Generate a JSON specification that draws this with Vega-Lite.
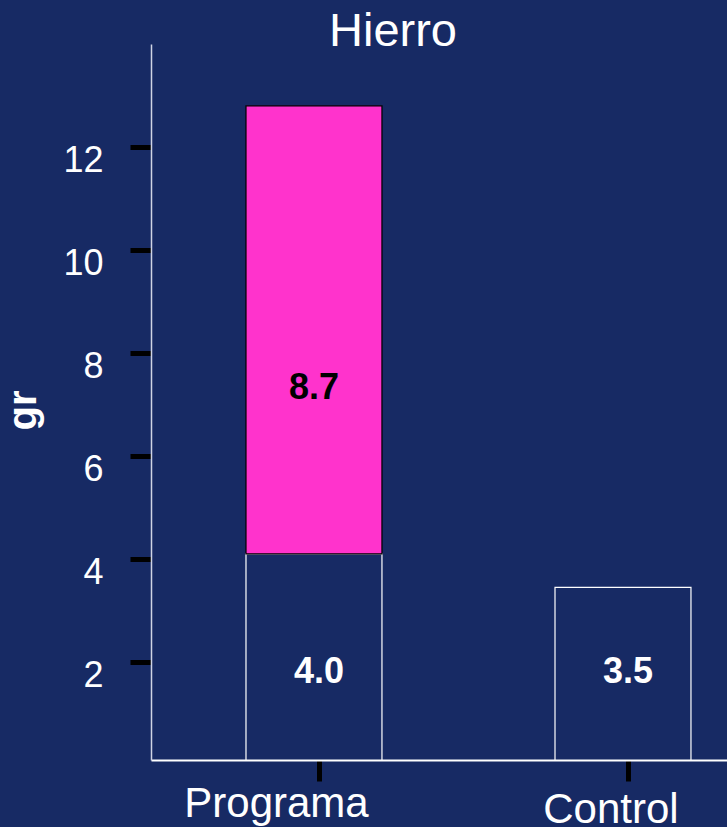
{
  "$schema": "https://vega.github.io/schema/vega-lite/v6.json",
  "autosize": "none",
  "padding": {"left": 151, "top": 44, "right": 0, "bottom": 67},
  "width": 576,
  "height": 716,
  "background": "#172a64",
  "config": {
    "font": "Liberation Sans",
    "view": {"stroke": null}
  },
  "title": {
    "text": "Hierro",
    "color": "#ffffff",
    "fontSize": 47,
    "fontWeight": "normal",
    "font": "Liberation Sans",
    "anchor": "middle",
    "frame": "group",
    "dx": -46,
    "dy": 16
  },
  "data": {
    "values": [
      {"grupo": "Programa", "parte": "Basal", "valor": 4.1, "etiqueta": "4.0"},
      {"grupo": "Programa", "parte": "Incremento", "valor": 8.7, "etiqueta": "8.7"},
      {"grupo": "Control", "parte": "Basal", "valor": 3.45, "etiqueta": "3.5"}
    ]
  },
  "transform": [
    {"stack": "valor", "groupby": ["grupo"], "sort": [{"field": "parte", "order": "ascending"}], "as": ["y0", "y1"]}
  ],
  "encoding": {
    "x": {
      "field": "grupo",
      "type": "nominal",
      "sort": ["Programa", "Control"],
      "scale": {"paddingInner": 0.56, "paddingOuter": 0.212, "align": 0.725},
      "axis": {
        "title": null,
        "labelAngle": 0,
        "labelColor": "#ffffff",
        "labelFontSize": 42,
        "labelFont": "Liberation Sans",
        "labelBaseline": "top",
        "labelLimit": 400,
        "labelOffset": {"condition": {"test": "datum.value === 'Programa'", "value": -43}, "value": -17.5},
        "labelPadding": {"condition": {"test": "datum.value === 'Programa'", "value": 2}, "value": 8},
        "domainColor": "#ffffff",
        "domainWidth": 2,
        "tickColor": "#000000",
        "tickWidth": 5,
        "tickSize": 21,
        "tickOffset": 5
      }
    },
    "y": {
      "field": "y1",
      "type": "quantitative",
      "scale": {"domain": [0.1, 14], "zero": false, "nice": false},
      "axis": {
        "title": "gr",
        "titleColor": "#ffffff",
        "titleFontSize": 40,
        "titleFontWeight": "bold",
        "titleFont": "Liberation Sans",
        "titleAngle": -90,
        "titleAlign": "center",
        "titleBaseline": "bottom",
        "titleX": -108,
        "titleY": 366,
        "values": [2, 4, 6, 8, 10, 12],
        "grid": false,
        "labelColor": "#ffffff",
        "labelFontSize": 36,
        "labelFont": "Liberation Sans",
        "labelPadding": 27,
        "labelOffset": 13.5,
        "labelBaseline": "middle",
        "domainColor": "#d0d4e4",
        "domainWidth": 1.5,
        "tickColor": "#000000",
        "tickWidth": 5,
        "tickSize": 21
      }
    }
  },
  "layer": [
    {
      "mark": {"type": "bar", "clip": true, "strokeWidth": 1.2},
      "encoding": {
        "y2": {"field": "y0"},
        "fill": {
          "field": "parte",
          "type": "nominal",
          "scale": {"domain": ["Basal", "Incremento"], "range": ["rgba(0,0,0,0)", "#ff33cc"]},
          "legend": null
        },
        "stroke": {
          "field": "parte",
          "type": "nominal",
          "scale": {"domain": ["Basal", "Incremento"], "range": ["#ffffff", "#000000"]},
          "legend": null
        }
      }
    },
    {
      "transform": [{"filter": "datum.parte === 'Incremento'"}],
      "mark": {"type": "text", "color": "#000000", "fontSize": 36, "fontWeight": "bold", "font": "Liberation Sans", "baseline": "middle", "dy": 282},
      "encoding": {"text": {"field": "etiqueta"}}
    },
    {
      "transform": [{"filter": "datum.parte === 'Basal'"}],
      "mark": {"type": "text", "color": "#ffffff", "fontSize": 36, "fontWeight": "bold", "font": "Liberation Sans", "baseline": "middle", "dy": -93, "dx": 5},
      "encoding": {
        "y": {"field": "y0", "type": "quantitative"},
        "text": {"field": "etiqueta"}
      }
    }
  ]
}
